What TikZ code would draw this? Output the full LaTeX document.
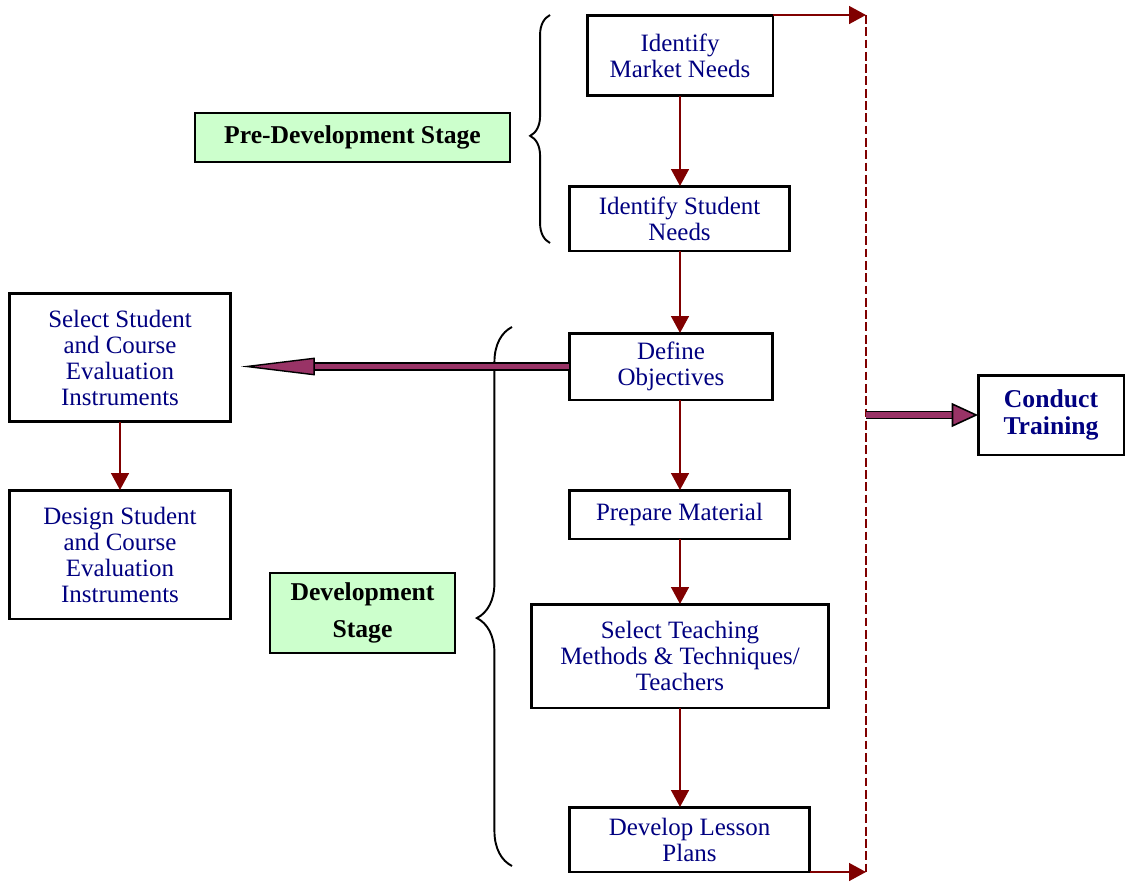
\documentclass[tikz,border=0pt]{standalone}
\usepackage{fontspec}
\setmainfont{Liberation Serif}
\usetikzlibrary{arrows.meta,decorations.pathreplacing,calc}
\definecolor{navytext}{HTML}{000080}
\definecolor{flowred}{HTML}{800000}
\definecolor{plum}{HTML}{993366}
\definecolor{stagegreen}{HTML}{CCFFCC}
\begin{document}
\begin{tikzpicture}[x=0.02cm,y=-0.02cm,
  box/.style={draw=black,line width=1.7pt,fill=white,inner sep=0pt,outer sep=0pt,align=center,
    text=navytext,font=\fontsize{14.2}{14.8}\selectfont},
  stagebox/.style={draw=black,line width=1.1pt,fill=stagegreen,inner sep=0pt,outer sep=0pt,align=center,
    font=\bfseries\fontsize{14.6}{15}\selectfont},
  flow/.style={draw=flowred,line width=1.4pt,-{Triangle[length=9.6pt,width=10pt]}},
  stagebrace/.style={draw=black,line width=1.1pt,decorate,
    decoration={brace,amplitude=#1}},
]
\useasboundingbox (0,0) rectangle (1125,882);

% process steps
\node[box,minimum width=3.72cm,minimum height=1.62cm] (market) at (680,55.5)
  {Identify\\Market Needs};
\node[box,minimum width=4.42cm,minimum height=1.30cm] (student) at (679.5,218.5)
  {Identify Student\\Needs};
\node[box,minimum width=4.08cm,minimum height=1.34cm] (define) at (671,366.5)
  {Define\\Objectives};
\node[box,minimum width=4.42cm,minimum height=0.98cm] (prepare) at (679.5,514.5)
  {Prepare Material};
\node[box,minimum width=5.96cm,minimum height=2.08cm] (teach) at (680,656)
  {Select Teaching\\Methods \& Techniques/\\Teachers};
\node[box,minimum width=4.82cm,minimum height=1.30cm] (lesson) at (689.5,839.5)
  {Develop Lesson\\Plans};

% evaluation branch
\node[box,minimum width=4.44cm,minimum height=2.58cm] (selEval) at (120,357.5)
  {Select Student\\and Course\\Evaluation\\Instruments};
\node[box,minimum width=4.44cm,minimum height=2.58cm] (design) at (120,554.5)
  {Design Student\\and Course\\Evaluation\\Instruments};

% outcome
\node[box,minimum width=2.92cm,minimum height=1.60cm,font=\bfseries\fontsize{14.6}{15.5}\selectfont]
  (train) at (1051,415) {Conduct\\Training};

% stage labels
\node[stagebox,minimum width=6.30cm,minimum height=0.98cm] (pre) at (352.5,137.5)
  {Pre-Development Stage};
\node[stagebox,minimum width=3.70cm,minimum height=1.60cm] (dev) at (362.5,613)
  {Development\\[6pt]Stage};

% stage braces
\draw[stagebrace=11.3pt,decoration={aspect=0.47}] (550,243) -- (550,15);
\draw[stagebrace=20pt,decoration={aspect=0.46}] (512,866) -- (512,327);

% feedback rail
\coordinate (dtop) at (866,15);
\coordinate (dbot) at (866,872);
\coordinate (dmid) at (dtop |- train.west);
\draw[flowred,line width=1.4pt,dash pattern=on 5pt off 2pt] (dtop) -- (dbot);
\draw[flow] (market.north east) -- (market.north east -| dtop);
\draw[flow] (lesson.south east) -- (lesson.south east -| dbot);

% main flow
\draw[flow] (market.south) -- (market.south |- student.north);
\draw[flow] (market.south |- student.south) -- (market.south |- define.north);
\draw[flow] (market.south |- define.south) -- (market.south |- prepare.north);
\draw[flow] (market.south |- prepare.south) -- (market.south |- teach.north);
\draw[flow] (teach.south) -- (teach.south |- lesson.north);
\draw[flow] (selEval.south) -- (design.north);

% thick outlined arrows
\draw[black,line width=5.1pt,yshift=-0.6pt,shorten >=46pt]
  (define.west) -- (define.west -| selEval.east);
\draw[plum,line width=3.4pt,shorten >=5.7pt,
  -{Triangle[length=42pt,width=10pt,color=black,fill=plum,line width=0.8pt]}]
  (define.west) -- (define.west -| selEval.east);
\draw[black,line width=5.1pt,yshift=-0.4pt,shorten >=14pt] (dmid) -- (train.west);
\draw[plum,line width=3.2pt,
  -{Triangle[length=15pt,width=13.6pt,color=black,fill=plum,line width=0.9pt]}]
  (dmid) -- (train.west);
\end{tikzpicture}
\end{document}
